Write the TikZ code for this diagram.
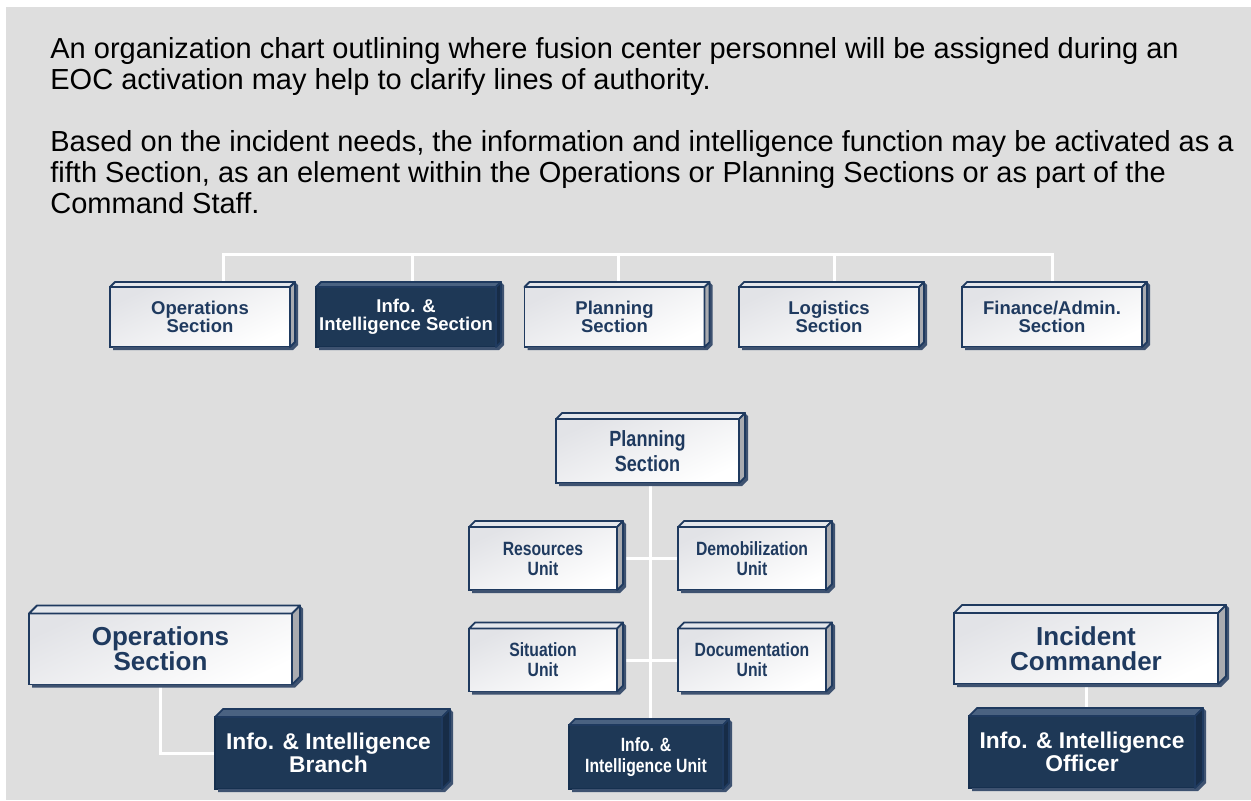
\documentclass[tikz,border=0pt]{standalone}
\usepackage{fontspec}
\setmainfont{Liberation Sans}
\newfontfamily\narrowfont[FakeStretch=0.82]{Liberation Sans}
\usetikzlibrary{calc}
\definecolor{pagegray}{HTML}{DEDEDE}
\definecolor{navy}{HTML}{1F3A5F}
\definecolor{navyline}{HTML}{16304F}
\definecolor{darkfill}{HTML}{1E3856}
\definecolor{darktop}{HTML}{4A6281}
\definecolor{darkside}{HTML}{172C47}
\definecolor{lighttop}{HTML}{E4E7EC}
\definecolor{lightside}{HTML}{A9ABB0}
\definecolor{boxgray}{HTML}{E2E3E7}
\definecolor{shadowcol}{HTML}{3E5270}
\lineskiplimit=-20pt
\pgfdeclarelayer{back}
\pgfdeclarelayer{wires}
\pgfsetlayers{back,wires,main}
\tikzset{
  link/.style={draw=white, line width=1.5pt},
  face/.style={draw=navy, line width=0.9pt, line join=round},
  orgbox/.style={line width=0.9pt, inner sep=0pt, outer sep=0pt, align=center},
  lightbox/.style={orgbox, draw=navy, text=navy, top color=boxgray, bottom color=white, shading angle=25},
  darkbox/.style={orgbox, draw=navyline, fill=darkfill, text=white},
  sect/.style={minimum width=90pt, minimum height=30pt, font=\fontsize{9.25}{9}\selectfont\bfseries},
  unitbox/.style={minimum width=74pt, minimum height=31.5pt, font=\narrowfont\fontsize{9.6}{10}\selectfont\bfseries},
}
% top face, side face and shadow of a box
\newcommand{\boxfaces}[4]{%
  \fill[shadowcol] ($(#1.south west)+(3,0)$) -- ($(#1.south west)+(3,3)$) -- ($(#1.south east)+(3,3)$)
    -- ($(#1.south east)+(#2+3,-#2+3)$) -- ($(#1.north east)+(#2+3,-#2+3)$) -- ($(#1.north east)+(#2,-#2)$)
    -- ($(#1.south east)+(#2,-#2)$) -- (#1.south east) -- cycle;
  \filldraw[face, fill=#3] (#1.north west) -- ($(#1.north west)+(#2,-#2)$) -- ($(#1.north east)+(#2,-#2)$) -- (#1.north east) -- cycle;
  \filldraw[face, fill=#4] (#1.north east) -- ($(#1.north east)+(#2,-#2)$) -- ($(#1.south east)+(#2,-#2)$) -- (#1.south east) -- cycle;
}
\begin{document}
\begin{tikzpicture}[x=0.5pt, y=-0.5pt]
\useasboundingbox (0,0) rectangle (1251,800);
\begin{pgfonlayer}{back}
\fill[pagegray] (6,7) rectangle (1251,800);
\end{pgfonlayer}
\node[anchor=north west, inner sep=0pt, align=left, font=\fontsize{14.5}{15.5}\selectfont] (intro) at (50,37)
  {An organization chart outlining where fusion center personnel will be assigned during an\\
   EOC activation may help to clarify lines of authority.\\[15.5pt]
   Based on the incident needs, the information and intelligence function may be activated as a\\
   fifth Section, as an element within the Operations or Planning Sections or as part of the\\
   Command Staff.};
% the five sections
\node[lightbox, sect] (opsS) at (200,317) {Operations\\Section};
\node[darkbox, sect] (infS) at (406,317) {Info. \&\\Intelligence Section};
\node[lightbox, sect] (plaS) at (614.5,317) {Planning\\Section};
\node[lightbox, sect] (logS) at (829,317) {Logistics\\Section};
\node[lightbox, sect] (finS) at (1052,317) {Finance/Admin.\\Section};
\boxfaces{opsS}{5}{lighttop}{lightside}
\boxfaces{infS}{5}{darktop}{darkside}
\boxfaces{plaS}{5}{lighttop}{lightside}
\boxfaces{logS}{5}{lighttop}{lightside}
\boxfaces{finS}{5}{lighttop}{lightside}
% planning section and its units
\node[lightbox, minimum width=91.5pt, minimum height=32pt, font=\narrowfont\fontsize{11}{12.5}\selectfont\bfseries] (plan) at (647.5,451) {Planning\\Section};
\node[lightbox, unitbox] (res) at (543,558.5) {Resources\\Unit};
\node[lightbox, unitbox] (dem) at (752,558.5) {Demobilization\\Unit};
\node[lightbox, unitbox] (sit) at (543,660) {Situation\\Unit};
\node[lightbox, unitbox] (doc) at (752,660) {Documentation\\Unit};
\node[darkbox, unitbox, minimum width=77pt, minimum height=32pt, font=\narrowfont\fontsize{9.6}{10.5}\selectfont\bfseries] (piu) at (646,757) {Info. \&\\Intelligence Unit};
\foreach \n in {plan,res,dem,sit,doc} {\boxfaces{\n}{6}{lighttop}{lightside}}
\boxfaces{piu}{6}{darktop}{darkside}
% operations branch
\node[lightbox, minimum width=131.5pt, minimum height=35.5pt, font=\fontsize{13}{12.5}\selectfont\bfseries] (ops) at (160.5,649) {Operations\\Section};
\node[darkbox, minimum width=113.5pt, minimum height=36pt, font=\fontsize{11.4}{11.2}\selectfont\bfseries] (ib) at (328.5,753) {Info. \& Intelligence\\Branch};
\boxfaces{ops}{8}{lighttop}{lightside}
\boxfaces{ib}{8}{darktop}{darkside}
% command staff
\node[lightbox, minimum width=132pt, minimum height=35.5pt, font=\fontsize{13}{12.5}\selectfont\bfseries] (ic) at (1086,648.5) {Incident\\Commander};
\node[darkbox, minimum width=113pt, minimum height=36pt, font=\fontsize{11.4}{11.4}\selectfont\bfseries] (io) at (1082,752) {Info. \& Intelligence\\Officer};
\boxfaces{ic}{8}{lighttop}{lightside}
\boxfaces{io}{8}{darktop}{darkside}
\begin{pgfonlayer}{wires}
\draw[link] ($(opsS.north)+(23,0)$) |- ($(finS.north)+(0,-33)$) -- (finS.north);
\foreach \n/\dx in {infS/6, plaS/3.5, logS/5}
  \draw[link] ($(\n.north)+(\dx,0)$) -- ++(0,-33);
\draw[link] ($(plan.south)+(2.5,0)$) -- ($(piu.north)+(4,0)$);
\draw[link] (res.east) -- (dem.west);
\draw[link] (sit.east) -- (doc.west);
\draw[link] (ops.south) |- (ib.west);
\draw[link] (ic.south) -- (ic.south |- io.north);
\end{pgfonlayer}
\end{tikzpicture}
\end{document}
